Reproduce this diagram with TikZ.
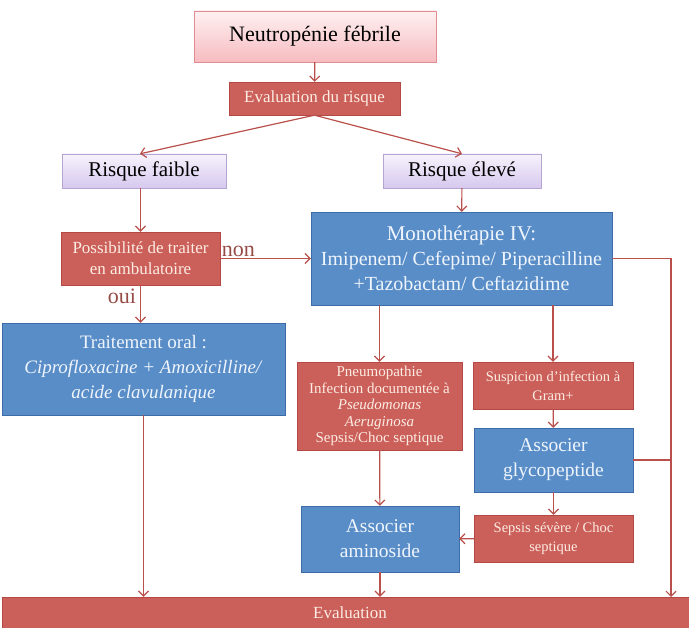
\documentclass[tikz,border=0pt]{standalone}
\usepackage{fontspec}
\setmainfont{Liberation Serif}
\usetikzlibrary{arrows.meta}

\definecolor{redfill}{RGB}{203,96,91}
\definecolor{redline}{RGB}{180,72,68}
\definecolor{redtext}{RGB}{252,236,226}
\definecolor{bluefill}{RGB}{88,141,200}
\definecolor{blueline}{RGB}{62,108,168}
\definecolor{bluetext}{RGB}{240,245,252}
\definecolor{flechecol}{RGB}{185,80,75}
\definecolor{pinktop}{RGB}{255,240,242}
\definecolor{pinkbot}{RGB}{246,188,192}
\definecolor{pinkline}{RGB}{225,140,145}
\definecolor{lavtop}{RGB}{247,243,252}
\definecolor{lavbot}{RGB}{214,200,238}
\definecolor{lavline}{RGB}{180,165,210}
\definecolor{labelcol}{RGB}{150,75,70}

\begin{document}
\begin{tikzpicture}[x=1pt,y=-1pt,
	redbox/.style={draw=redline,fill=redfill,text=redtext,align=center,inner sep=0pt,font=\fontsize{17}{21}\selectfont},
	bluebox/.style={draw=blueline,fill=bluefill,text=bluetext,align=center,inner sep=0pt},
	risquebox/.style={draw=lavline,top color=lavtop,bottom color=lavbot,align=center,inner sep=0pt,minimum height=34pt,font=\fontsize{21}{24}\selectfont},
	fleche/.style={draw=flechecol,line width=1.2pt,-{Straight Barb[length=5pt,width=10pt]}}]
	
	\useasboundingbox (0,0) rectangle (689,628);
	\clip (0,0) rectangle (689,628);
	
	% haut
	\node[draw=pinkline,top color=pinktop,bottom color=pinkbot,minimum width=242pt,minimum height=51pt,font=\fontsize{22}{26}\selectfont] (neutro) at (315,36.5) {Neutropénie fébrile};
	\node[redbox,minimum width=171pt,minimum height=33pt] (evalrisque) at (314.5,98.5) {Evaluation du risque};
	\node[risquebox,minimum width=164pt] (faible) at (144,171) {Risque faible};
	\node[risquebox,minimum width=158pt] (eleve) at (462,171) {Risque élevé};
	
	% risque faible
	\node[redbox,minimum width=159pt,minimum height=53pt] (ambu) at (140.5,258.5) {Possibilité de traiter\\en ambulatoire};
	\node[bluebox,minimum width=283pt,minimum height=92pt,font=\fontsize{19}{25}\selectfont] (oral) at (143.5,369) {Traitement oral :\\\textit{Ciprofloxacine + Amoxicilline/}\\\textit{acide clavulanique}};
	
	% risque eleve
	\node[bluebox,minimum width=301pt,minimum height=93pt,font=\fontsize{20}{25}\selectfont] (mono) at (461.5,258.5) {{\fontsize{21}{25}\selectfont Monothérapie IV:}\\Imipenem/ Cefepime/ Piperacilline\\+Tazobactam/ Ceftazidime};
	\node[redbox,minimum width=165pt,minimum height=88pt,font=\fontsize{15}{16.5}\selectfont] (pneumo) at (379.5,406) {Pneumopathie\\Infection documentée à\\\textit{Pseudomonas}\\\textit{Aeruginosa}\\Sepsis/Choc septique};
	\node[redbox,minimum width=160pt,minimum height=47pt,font=\fontsize{14.5}{19}\selectfont] (suspicion) at (553,385.5) {Suspicion d’infection à\\Gram+};
	\node[bluebox,minimum width=159pt,minimum height=64pt,font=\fontsize{19.5}{25}\selectfont] (glyco) at (553.5,460) {Associer\\glycopeptide};
	\node[redbox,minimum width=159pt,minimum height=47pt,font=\fontsize{14.5}{19}\selectfont] (sepsis) at (553.5,538.5) {Sepsis sévère / Choc\\septique};
	\node[bluebox,minimum width=158pt,minimum height=66pt,font=\fontsize{19.5}{25}\selectfont] (amino) at (380,539) {Associer\\aminoside};
	
	% bas
	\node[redbox,minimum width=696pt,minimum height=40pt,text depth=8pt] (evaluation) at (350,617) {Evaluation};
	\coordinate (droite) at (671,597);
	
	% fleches
	\draw[fleche] (neutro) -- (evalrisque);
	\draw[fleche] (evalrisque.south) -- ([xshift=-4pt]faible.north);
	\draw[fleche] (evalrisque.south) -- (eleve.north);
	\draw[fleche] (ambu.north |- faible.south) -- (ambu.north);
	\draw[fleche] (eleve) -- (mono);
	\draw[fleche] (ambu.east) -- (mono.west) node[pos=0,above right,inner sep=1pt,text=labelcol,font=\fontsize{22}{24}\selectfont] {non};
	\draw[fleche] (ambu.south) -- (ambu.south |- oral.north) node[pos=0.3,left,inner sep=4pt,text=labelcol,font=\fontsize{22}{24}\selectfont] {oui};
	\draw[fleche] (pneumo.north |- mono.south) -- (pneumo.north);
	\draw[fleche] (suspicion.north |- mono.south) -- (suspicion.north);
	\draw[fleche] (suspicion) -- (glyco);
	\draw[fleche] (glyco) -- (sepsis);
	\draw[fleche] (sepsis) -- (amino);
	\draw[fleche] (pneumo) -- (amino);
	\draw[fleche] (amino.south) -- (amino.south |- evaluation.north);
	\draw[fleche] (oral.south) -- (oral.south |- evaluation.north);
	\draw[fleche] (mono.east) -| (droite);
	\draw[flechecol,line width=1.2pt] (glyco.east) -- (glyco.east -| droite);
	
\end{tikzpicture}
\end{document}
